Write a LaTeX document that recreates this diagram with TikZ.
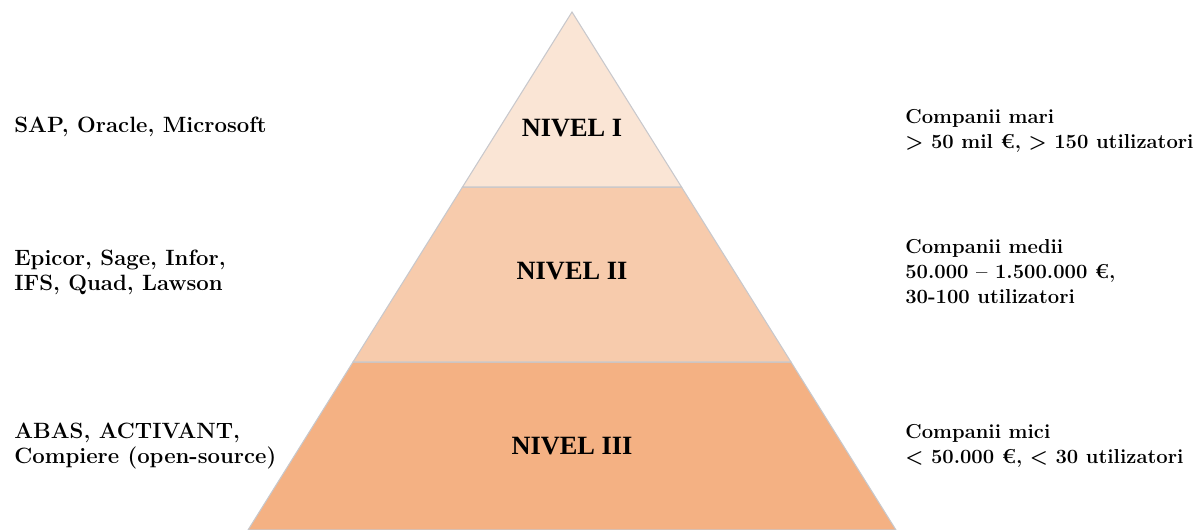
\documentclass[tikz,border=0pt]{standalone}
\usepackage{fontspec}
\newfontfamily\levelfont{Liberation Serif}
\usepackage{tikz}
\usetikzlibrary{positioning}
\definecolor{levelone}{HTML}{FAE5D5}
\definecolor{leveltwo}{HTML}{F7CBAC}
\definecolor{levelthree}{HTML}{F4B183}
\definecolor{edgegrey}{HTML}{C8C8CC}
\begin{document}
\begin{tikzpicture}[
    levelbox/.style={draw=edgegrey, line width=0.6pt},
    levellabel/.style={font=\levelfont\bfseries\fontsize{15}{18}\selectfont},
    vendortext/.style={anchor=west, align=left, inner sep=0pt,
      font=\bfseries\fontsize{12.6}{14.2}\selectfont},
    companytext/.style={anchor=west, align=left, inner sep=0pt,
      font=\bfseries\fontsize{11.5}{14.2}\selectfont}]
  \useasboundingbox (0,0) rectangle (24,10.6);
  % pyramid levels
  \filldraw[levelbox, fill=levelthree] (4.96,0) -- (17.92,0) -- (15.82,3.36) -- (7.06,3.36) -- cycle;
  \filldraw[levelbox, fill=leveltwo] (7.06,3.36) -- (15.82,3.36) -- (13.63,6.86) -- (9.25,6.86) -- cycle;
  \filldraw[levelbox, fill=levelone] (9.25,6.86) -- (13.63,6.86) -- (11.44,10.36) -- cycle;
  \node[levellabel] (nivel1) at (11.44,8.04) {NIVEL I};
  \node[levellabel] (nivel2) at (11.44,5.18) {NIVEL II};
  \node[levellabel] (nivel3) at (11.44,1.68) {NIVEL III};
  % vendors
  \node[vendortext] (vendor1) at (0.28,8.06) {SAP, Oracle, Microsoft};
  \node[vendortext] (vendor2) at (0.28,5.16) {Epicor, Sage, Infor,\\IFS, Quad, Lawson};
  \node[vendortext] (vendor3) at (0.28,1.68) {ABAS, ACTIVANT,\\Compiere (open-source)};
  % companies
  \node[companytext] (comp1) at (18.1,7.98) {Companii mari\\> 50 mil €, > 150 utilizatori};
  \node[companytext] (comp2) at (18.1,5.16) {Companii medii\\50.000 – 1.500.000 €,\\30-100 utilizatori};
  \node[companytext] (comp3) at (18.1,1.68) {Companii mici\\< 50.000 €, < 30 utilizatori};
\end{tikzpicture}
\end{document}
